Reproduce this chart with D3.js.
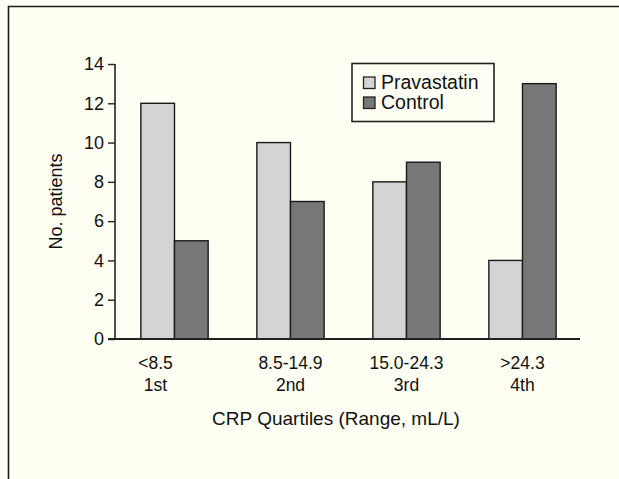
<!DOCTYPE html>
<html>
<head>
<meta charset="utf-8">
<script src="https://cdn.jsdelivr.net/npm/d3@7"></script>
<style>
  body { margin: 0; background: #fffff3; }
  svg { display: block; }
  text { font-family: "Liberation Sans", Arial, sans-serif; fill: #111; }
</style>
</head>
<body>
<svg id="chart"></svg>
<script>
// CRP quartile groups
const quartiles = ["1st", "2nd", "3rd", "4th"];
const ranges = ["<8.5", "8.5-14.9", "15.0-24.3", ">24.3"];
const series = ["Pravastatin", "Control"];
const pravastatin = [12, 10, 8, 4];
const control = [5, 7, 9, 13];
const yTicks = [0, 2, 4, 6, 8, 10, 12, 14];

const W = 619, H = 479;
const svg = d3.select("#chart").attr("width", W).attr("height", H);

svg.append("rect").attr("width", W).attr("height", H).attr("fill", "#fffff3");

// frame (only top and left visible in the crop)
svg.append("path")
  .attr("d", `M8.5,${H} V6.5 H${W}`)
  .attr("fill", "none").attr("stroke", "#1a1a1a").attr("stroke-width", 1.6);

const x0 = d3.scaleBand().domain(quartiles).range([116.5, 580.5])
  .paddingInner(0.42).paddingOuter(0.21);
const x1 = d3.scaleBand().domain(series).range([0, x0.bandwidth()]);
const y = d3.scaleLinear().domain([0, 14]).range([339, 64]);
const color = d3.scaleOrdinal().domain(series).range(["#d4d4d4", "#777777"]);

const rows = quartiles.map((q, i) => ({ q, values: [pravastatin[i], control[i]] }));

// bars
const grp = svg.selectAll(".grp").data(rows).enter().append("g")
  .attr("transform", d => `translate(${x0(d.q)},0)`);
grp.selectAll("rect")
  .data(d => d.values.map((v, j) => ({ key: series[j], v })))
  .enter().append("rect")
  .attr("x", d => x1(d.key))
  .attr("width", x1.bandwidth())
  .attr("y", d => y(d.v))
  .attr("height", d => y(0) - y(d.v))
  .attr("fill", d => color(d.key))
  .attr("stroke", "#1a1a1a").attr("stroke-width", 1.4);

// y axis
const yAxis = svg.append("g").attr("transform", "translate(115,0)")
  .call(d3.axisLeft(y).tickValues(yTicks).tickSize(7).tickPadding(4));
yAxis.select(".domain").attr("stroke", "#222").attr("stroke-width", 1.6)
  .attr("d", `M0,${y(14)}V${y(0)}`);
yAxis.selectAll(".tick line").attr("stroke", "#222").attr("stroke-width", 1.4);
yAxis.selectAll(".tick text").attr("font-size", 18).attr("fill", "#111")
  .attr("font-family", "Liberation Sans, Arial, sans-serif");

// x axis line
svg.append("line")
  .attr("x1", 108).attr("x2", 580)
  .attr("y1", y(0)).attr("y2", y(0))
  .attr("stroke", "#222").attr("stroke-width", 1.8);

// x labels, two lines
const xl = svg.selectAll(".xl").data(quartiles).enter().append("text")
  .attr("text-anchor", "middle")
  .attr("font-size", 17.5)
  .attr("transform", (d, i) => `translate(${x0(d) + x0.bandwidth() / 2 + (i === 0 ? -19 : 0)},0)`);
xl.append("tspan").attr("x", 0).attr("y", 369).text((d, i) => ranges[i]);
xl.append("tspan").attr("x", 0).attr("y", 391).text(d => d);

// axis titles
svg.append("text")
  .attr("x", 336).attr("y", 425)
  .attr("text-anchor", "middle").attr("font-size", 19)
  .text("CRP Quartiles (Range, mL/L)");

svg.append("text")
  .attr("transform", `translate(61.5,${(y(0) + y(14)) / 2}) rotate(-90)`)
  .attr("text-anchor", "middle").attr("font-size", 18)
  .text("No. patients");

// legend
const lg = svg.append("g").attr("transform", "translate(352,63.5)");
lg.append("rect").attr("width", 142).attr("height", 58)
  .attr("fill", "#fffff3").attr("stroke", "#222").attr("stroke-width", 1.6);
const items = lg.selectAll(".item").data(series).enter().append("g")
  .attr("transform", (d, i) => `translate(11.5,${13.5 + i * 20})`);
items.append("rect").attr("width", 11.5).attr("height", 11.5)
  .attr("fill", d => color(d)).attr("stroke", "#222").attr("stroke-width", 1.3);
items.append("text").attr("x", 17.5).attr("y", 11.5)
  .attr("font-size", 19.5).text(d => d);
</script>
</body>
</html>
